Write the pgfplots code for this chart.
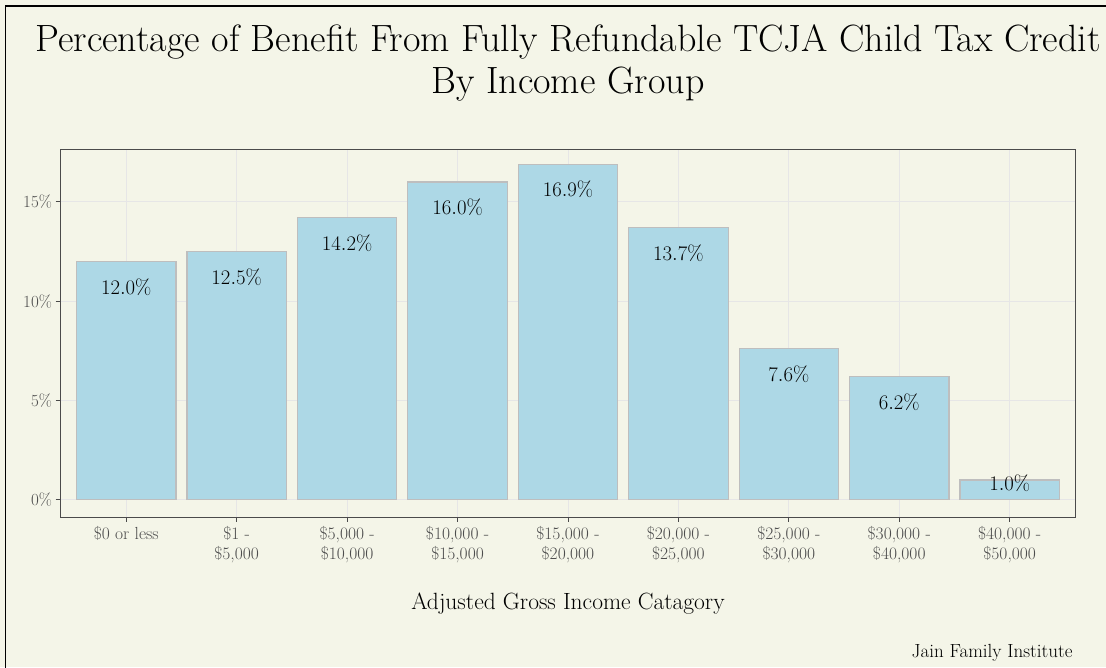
\documentclass[border=0pt]{standalone}
\usepackage{pgfplots}
\pgfplotsset{compat=1.18}
\usepackage{pgfplotstable}
\definecolor{bg}{HTML}{F4F5E8}
\definecolor{barfill}{HTML}{ADD8E6}
\definecolor{bardraw}{HTML}{BEBEBE}
\definecolor{gridc}{HTML}{E6E6E6}
\definecolor{ticktext}{HTML}{4D4D4D}
\definecolor{panelline}{HTML}{4A4A4A}
\pgfplotstableread{
x y ly
0 12.0 10.72
1 12.5 11.22
2 14.2 12.92
3 16.0 14.72
4 16.9 15.62
5 13.7 12.42
6 7.6 6.32
7 6.2 4.92
8 1.0 0.86
}\datatable
\begin{document}
\begin{tikzpicture}
\path[use as bounding box] (0pt,0pt) rectangle (1106pt,667pt);
\fill[bg] (0pt,0pt) rectangle (1106pt,667pt);
\draw[black, line width=1.3pt] (5.5pt,-20pt) rectangle (1130pt,661pt);
\node[font=\fontsize{38}{44}\selectfont, anchor=base] at (568pt,615pt) {Percentage of Benefit From Fully Refundable TCJA Child Tax Credit};
\node[font=\fontsize{38}{44}\selectfont, anchor=base] at (568pt,573pt) {By Income Group};
\begin{axis}[
  at={(60pt,150pt)}, anchor=south west, scale only axis,
  width=1016pt, height=368pt,
  xmin=-0.6, xmax=8.6, ymin=-0.86, ymax=17.66,
  ytick={0,5,10,15}, yticklabels={0\%,5\%,10\%,15\%},
  xtick={0,...,8},
  xticklabels={{\$0 or less},{\$1 -\\\$5,000},{\$5,000 -\\\$10,000},{\$10,000 -\\\$15,000},{\$15,000 -\\\$20,000},{\$20,000 -\\\$25,000},{\$25,000 -\\\$30,000},{\$30,000 -\\\$40,000},{\$40,000 -\\\$50,000}},
  xticklabel style={align=center, font=\fontsize{17.5}{20}\selectfont, text=ticktext, anchor=north, yshift=-1pt},
  yticklabel style={font=\fontsize{17}{20}\selectfont, text=ticktext},
  tick pos=left, tick align=outside, major tick length=4.5pt,
  tick style={color=panelline, line width=0.9pt},
  grid=major, major grid style={color=gridc, line width=0.9pt},
  axis line style={color=panelline, line width=0.9pt},
  axis background/.style={fill=bg},
  clip=false,
]
\addplot[ybar, bar width=0.9, bar shift=0, fill=barfill, draw=bardraw, line width=1.1pt] table[x=x, y=y] {\datatable};
\addplot[draw=none, nodes near coords={\pgfmathprintnumber[fixed,fixed zerofill,precision=1]{\pgfplotspointmeta}\%},
  point meta=explicit, nodes near coords style={anchor=center, font=\fontsize{21}{24}\selectfont, text=black}]
  table[x=x, y=ly, meta=y] {\datatable};
\end{axis}
\node[font=\fontsize{23.5}{28}\selectfont, anchor=base] at (568pt,57pt) {Adjusted Gross Income Catagory};
\node[font=\fontsize{19}{22}\selectfont, anchor=base east] at (1076pt,10pt) {Jain Family Institute};
\end{tikzpicture}
\end{document}
